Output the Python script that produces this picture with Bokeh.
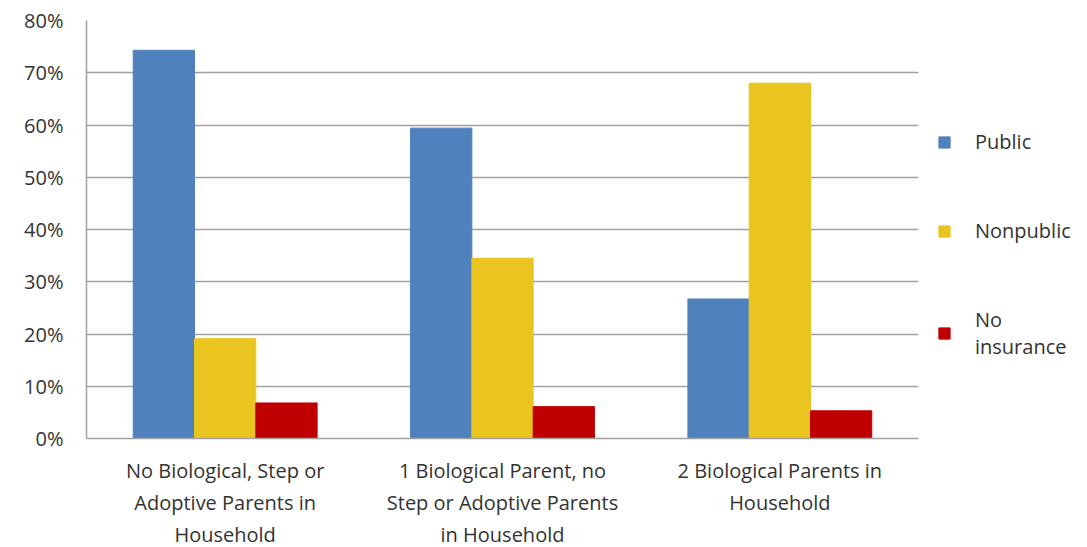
from bokeh.plotting import figure
from bokeh.models import ColumnDataSource, FactorRange, Range1d, Legend, LegendItem, NumeralTickFormatter, FixedTicker
from bokeh.transform import dodge
from bokeh.embed import file_html
from bokeh.resources import INLINE

categories = ["No Biological, Step or\nAdoptive Parents in\nHousehold",
              "1 Biological Parent, no\nStep or Adoptive Parents\nin Household",
              "2 Biological Parents in\nHousehold"]
series_names = ["Public", "Nonpublic", "No\ninsurance"]
public = [0.743, 0.594, 0.267]
nonpublic = [0.191, 0.345, 0.680]
no_insurance = [0.068, 0.061, 0.053]
y_ticks = [0, 0.1, 0.2, 0.3, 0.4, 0.5, 0.6, 0.7, 0.8]

FONT = "Open Sans"
FS = "20px"
TXT = "#333333"

src = ColumnDataSource(dict(cat=categories, pub=public, nonpub=nonpublic, noins=no_insurance))

p = figure(x_range=FactorRange(*categories), y_range=Range1d(0, 0.8),
           frame_width=832, frame_height=418, output_backend="svg", toolbar_location=None,
           min_border_left=86, min_border_top=20, min_border_bottom=109, min_border_right=0)
p.outline_line_color = None
p.background_fill_color = "white"

w = 0.221
r1 = p.vbar(x=dodge("cat", -w, range=p.x_range), top="pub", width=w, source=src, color="#4F81BD")
r2 = p.vbar(x=dodge("cat", 0, range=p.x_range), top="nonpub", width=w, source=src, color="#EAC520")
r3 = p.vbar(x=dodge("cat", w, range=p.x_range), top="noins", width=w, source=src, color="#C00000")

p.xgrid.grid_line_color = None
p.ygrid.grid_line_color = "#A0A0A0"
p.ygrid.grid_line_width = 1.5
p.yaxis.ticker = FixedTicker(ticks=y_ticks)
p.yaxis.formatter = NumeralTickFormatter(format="0%")
for ax in (p.xaxis, p.yaxis):
    ax.axis_line_color = "#A0A0A0"
    ax.axis_line_width = 1.5
    ax.major_tick_line_color = None
    ax.minor_tick_line_color = None
    ax.major_label_text_font = FONT
    ax.major_label_text_font_size = FS
    ax.major_label_text_color = TXT
p.yaxis.major_label_standoff = 17
p.xaxis.major_label_standoff = 12

leg = Legend(items=[LegendItem(label=series_names[0], renderers=[r1]),
                    LegendItem(label=series_names[1], renderers=[r2]),
                    LegendItem(label=series_names[2], renderers=[r3])],
             location=(19, 78), orientation="vertical", spacing=62)
leg.border_line_color = None
leg.background_fill_alpha = 0
leg.label_text_font = FONT
leg.label_text_font_size = FS
leg.label_text_color = TXT
leg.glyph_height = 14
leg.glyph_width = 14
leg.label_standoff = 24
leg.padding = 0
leg.margin = 0
p.add_layout(leg, "right")

open("out.html", "w").write(file_html(p, INLINE))
